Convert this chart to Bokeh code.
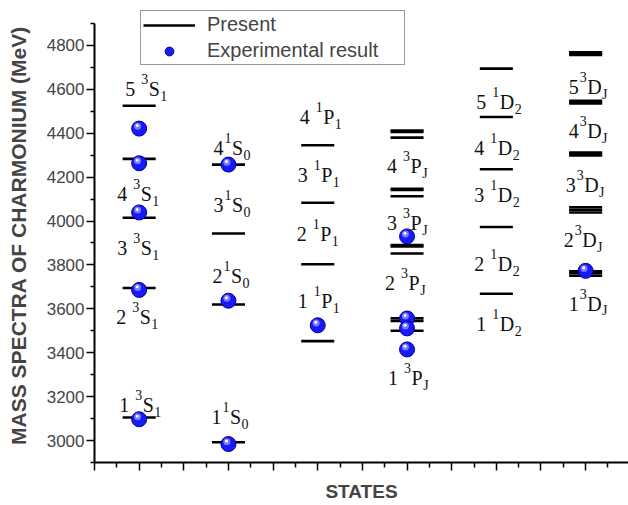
from bokeh.plotting import figure
from bokeh.models import FixedTicker, Legend, LegendItem, ColumnDataSource
from bokeh.transform import dodge
from bokeh.embed import file_html
from bokeh.resources import INLINE
from bokeh.core.properties import value

# ---------------- data ----------------
# columns: 1 = n3S1, 2 = n1S0, 3 = n1P1, 4 = n3PJ, 5 = n1D2, 6 = n3DJ
present_S1 = [4525, 4283, 4015, 3695, 3105]
present_S0 = [4257, 3943, 3620, 2992]
present_P1 = [4345, 4083, 3803, 3453]
present_PJ = [4412, 4406, 4380, 4147, 4141, 4113, 3890, 3884, 3852, 3557, 3545, 3500]
present_D2 = [4694, 4474, 4236, 3973, 3669]
present_DJ = [4768, 4762, 4756, 4547, 4541, 4535, 4312, 4306, 4299,
              4063, 4051, 4039, 3771, 3762, 3751]

expt_S1 = [4421, 4263, 4039, 3686, 3097]
expt_S0 = [4257, 3637, 2984]
expt_P1 = [3525]
expt_PJ = [3930, 3556, 3511, 3415]
expt_D2 = []
expt_DJ = [3773]

present_cols = [present_S1, present_S0, present_P1, present_PJ, present_D2, present_DJ]
expt_cols = [expt_S1, expt_S0, expt_P1, expt_PJ, expt_D2, expt_DJ]

# state labels: column, prefix, superscript, letter, subscript, baseline (MeV)
lab_col = [1, 1, 1, 1, 1,
           2, 2, 2, 2,
           3, 3, 3, 3,
           4, 4, 4, 4,
           5, 5, 5, 5, 5,
           6, 6, 6, 6, 6]
lab_pre = ["5 ", "4 ", "3 ", "2 ", "1 ",
           "4", "3", "2", "1",
           "4 ", "3 ", "2 ", "1 ",
           "4 ", "3 ", "2 ", "1 ",
           "5 ", "4 ", "3 ", "2 ", "1 ",
           "5", "4", "3", "2", "1"]
lab_sup = ["3"] * 5 + ["1"] * 4 + ["1"] * 4 + ["3"] * 4 + ["1"] * 5 + ["3"] * 5
lab_let = ["S"] * 5 + ["S"] * 4 + ["P"] * 4 + ["P"] * 4 + ["D"] * 5 + ["D"] * 5
lab_sub = ["1"] * 5 + ["0"] * 4 + ["1"] * 4 + ["J"] * 4 + ["2"] * 5 + ["J"] * 5
lab_y = [4600, 4121, 3875, 3561, 3160,
         4331, 4071, 3748, 3109,
         4472, 4208, 3943, 3634,
         4249, 3989, 3716, 3283,
         4541, 4331, 4117, 3802, 3533,
         4609, 4408, 4162, 3912, 3624]
# left edge of each label relative to column centre (screen px)
lab_dx = [-14, -22, -22, -23, -20,
          -15, -15, -16, -17,
          -18, -20, -21, -20,
          -20, -20, -22, -19,
          -20, -22, -22, -22, -20,
          -17, -17, -20, -22, -17]

y_ticks = [3000, 3200, 3400, 3600, 3800, 4000, 4200, 4400, 4600, 4800]
x_ticks = [0.5 + 0.5 * k for k in range(13)]

# ---------------- styles ----------------
MAIN = 20
SCRIPT = 14
ADV = {"0": .5, "1": .5, "2": .5, "3": .5, "4": .5, "5": .5, " ": .25,
       "S": .556, "P": .556, "D": .722, "J": .389}


def width(s, size):
    return sum(ADV[c] for c in s) * size


p = figure(width=628, height=505, x_range=(0.5, 6.48), y_range=(2900, 4968),
           output_backend="svg", toolbar_location=None,
           min_border_left=94, min_border_right=0, min_border_top=8,
           min_border_bottom=43)
p.outline_line_color = None
p.xgrid.grid_line_color = None
p.ygrid.grid_line_color = None
p.background_fill_color = "white"

# levels
lx, ly = [], []
for i, col in enumerate(present_cols):
    for v in col:
        lx.append(i + 1)
        ly.append(v)
lev = ColumnDataSource(dict(x=lx, y=ly))
seg = p.segment(x0=dodge("x", -0.185), x1=dodge("x", 0.185), y0="y", y1="y",
                source=lev, line_color="black", line_width=2.6)

# experimental points
ex, ey = [], []
for i, col in enumerate(expt_cols):
    for v in col:
        ex.append(i + 1)
        ey.append(v)
exs = ColumnDataSource(dict(x=ex, y=ey))
ball = p.scatter("x", "y", source=exs, size=15, fill_color="#1818f8",
                 line_color="#00009a", line_width=1)
p.scatter(dodge("x", -0.018), dodge("y", 11), source=exs, size=7,
          fill_color="#7a7aff", line_color=None)
p.scatter(dodge("x", -0.022), dodge("y", 14), source=exs, size=3,
          fill_color="white", line_color=None)

# state labels built from pieces
off_pre, off_sup, off_let, off_sub = [], [], [], []
for pre, sup, let, dx in zip(lab_pre, lab_sup, lab_let, lab_dx):
    a = dx
    b = a + width(pre, MAIN) + 1
    c = b + width(sup, SCRIPT) + 0.5
    d = c + width(let, MAIN) + 0.5
    off_pre.append(a); off_sup.append(b); off_let.append(c); off_sub.append(d)

labs = ColumnDataSource(dict(x=lab_col, y=lab_y, pre=lab_pre, sup=lab_sup,
                             let=lab_let, sub=lab_sub, o1=off_pre, o2=off_sup,
                             o3=off_let, o4=off_sub))
serif = value("Liberation Serif")
common = dict(source=labs, text_font=serif, text_color="#111111",
              text_baseline="alphabetic", text_align="left")
p.text("x", "y", text="pre", x_offset="o1", text_font_size=f"{MAIN}px", **common)
p.text("x", "y", text="sup", x_offset="o2", y_offset=-10, text_font_size=f"{SCRIPT}px", **common)
p.text("x", "y", text="let", x_offset="o3", text_font_size=f"{MAIN}px", **common)
p.text("x", "y", text="sub", x_offset="o4", y_offset=7, text_font_size=f"{SCRIPT}px", **common)

# axes
sans = "Liberation Sans"
yax = p.yaxis[0]
yax.bounds = (2900, 4900)
yax.ticker = FixedTicker(ticks=y_ticks,
                         minor_ticks=[y + 100 for y in range(2800, 4900, 200)])
yax.axis_label = "MASS SPECTRA OF CHARMONIUM (MeV)"
yax.axis_label_text_font = sans
yax.axis_label_text_font_style = "bold"
yax.axis_label_text_font_size = "21px"
yax.axis_label_standoff = 14
yax.major_label_text_font = sans
yax.major_label_text_font_size = "17px"
yax.major_label_standoff = 2
yax.major_tick_out = 8
yax.major_tick_in = 0
yax.minor_tick_out = 4
yax.minor_tick_in = 0
yax.axis_line_width = 2
yax.major_tick_line_width = 1.5
yax.minor_tick_line_width = 1.5

xax = p.xaxis[0]
xax.ticker = FixedTicker(ticks=x_ticks,
                         minor_ticks=[0.75 + 0.5 * k for k in range(12)])
xax.major_label_overrides = {t: "" for t in x_ticks}
xax.major_label_text_font_size = "6px"
xax.major_label_standoff = 0
xax.axis_label = "STATES"
xax.axis_label_text_font = sans
xax.axis_label_text_font_style = "bold"
xax.axis_label_text_font_size = "19px"
xax.axis_label_standoff = 10
xax.major_tick_out = 8
xax.major_tick_in = 0
xax.minor_tick_out = 5
xax.minor_tick_in = 0
xax.axis_line_width = 2
xax.major_tick_line_width = 1.5
xax.minor_tick_line_width = 1.5

legend = Legend(items=[LegendItem(label="Present", renderers=[seg]),
                       LegendItem(label="Experimental result", renderers=[ball])],
                location=(46, 397), margin=0, padding=2, spacing=3,
                glyph_width=52, glyph_height=22, label_height=22,
                label_width=195, label_standoff=12,
                label_text_font=sans, label_text_font_size="20px",
                border_line_color="#333333", border_line_width=1,
                background_fill_color="white", background_fill_alpha=1)
p.add_layout(legend)

open("out.html", "w").write(file_html(p, INLINE))
